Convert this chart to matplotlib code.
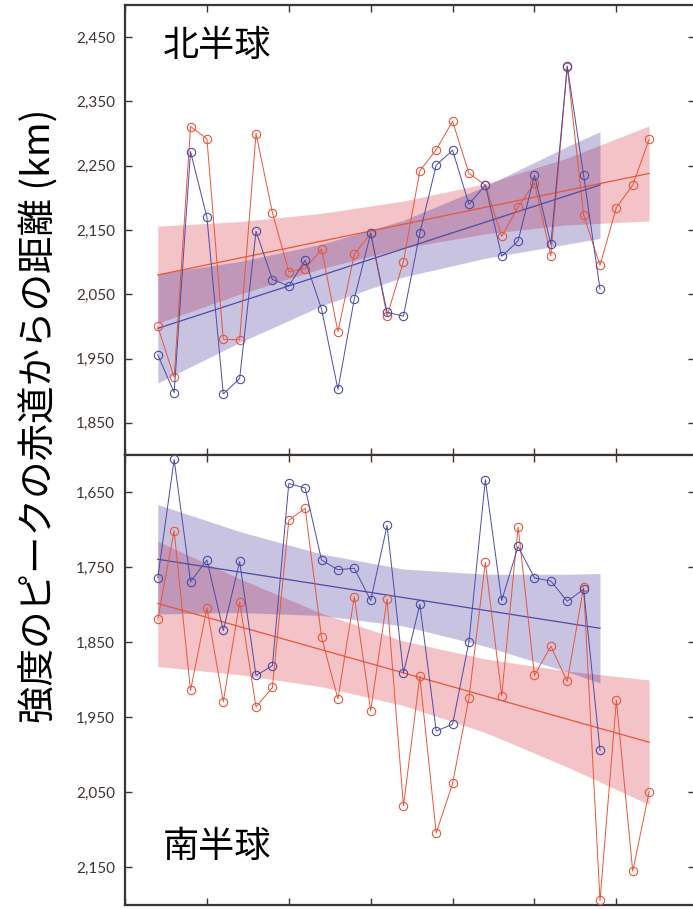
import matplotlib
matplotlib.use("Agg")
import matplotlib.pyplot as plt
from matplotlib.ticker import FuncFormatter, MultipleLocator
import numpy as np

# years for the two series (orange runs three years longer than blue)
years_a = np.arange(1982, 2013)
years_b = np.arange(1982, 2010)

# northern hemisphere, distance from equator (km)
nh_a = [2000, 1921, 2311, 2292, 1980, 1979, 2300, 2177, 2085, 2090,
        2120, 1992, 2112, 2145, 2016, 2101, 2242, 2275, 2319, 2238,
        2220, 2140, 2186, 2223, 2110, 2404, 2173, 2095, 2185, 2220, 2291]
nh_b = [1956, 1897, 2272, 2170, 1895, 1919, 2148, 2073, 2063, 2103,
        2027, 1902, 2043, 2145, 2022, 2016, 2145, 2251, 2274, 2190,
        2220, 2109, 2133, 2235, 2128, 2405, 2235, 2058]

# southern hemisphere
sh_a = [1819, 1701, 1914, 1804, 1929, 1796, 1936, 1910, 1687, 1671,
        1843, 1925, 1789, 1941, 1792, 2068, 1895, 2104, 2038, 1924,
        1743, 1921, 1696, 1894, 1855, 1902, 1776, 2194, 1927, 2155, 2049]
sh_b = [1764, 1606, 1769, 1740, 1834, 1742, 1894, 1881, 1638, 1644,
        1740, 1753, 1751, 1794, 1694, 1891, 1799, 1968, 1959, 1849,
        1633, 1794, 1722, 1764, 1768, 1795, 1779, 1994]

# trend lines (end points) and confidence bands
band_years_a = [1982, 1987, 1992, 1997, 2002, 2007, 2012]
band_years_b = [1982, 1987, 1992, 1997, 2002, 2007, 2009]

nh_fit_a = [2080, 2238]
nh_fit_b = [1997, 2220]
nh_band_a_hi = [2156, 2163, 2176, 2195, 2222, 2262, 2312]
nh_band_a_lo = [2005, 2050, 2090, 2122, 2144, 2158, 2164]
nh_band_b_hi = [2082, 2101, 2128, 2165, 2218, 2280, 2303]
nh_band_b_lo = [1912, 1975, 2032, 2077, 2106, 2128, 2137]

sh_fit_a = [1798, 1983]
sh_fit_b = [1739, 1831]
sh_band_a_hi = [1715, 1765, 1811, 1848, 1872, 1888, 1900]
sh_band_a_lo = [1882, 1893, 1909, 1934, 1970, 2016, 2066]
sh_band_b_hi = [1666, 1702, 1732, 1752, 1759, 1759, 1758]
sh_band_b_lo = [1812, 1810, 1814, 1828, 1855, 1889, 1904]

ORANGE = "#e8553a"
BLUE = "#4b4ca3"
DARK = "#3d3530"

plt.rcParams["font.family"] = ["Lato", "DejaVu Sans"]

W, H = 693, 909
fig = plt.figure(figsize=(W / 100, H / 100), dpi=100)

left = 125 / W
width = (695 - 125) / W
ax_top = fig.add_axes([left, (H - 455) / H, width, 450 / H])
ax_bot = fig.add_axes([left, (H - 905) / H, width, 450 / H])


def draw_panel(ax, ya, yb, fit_a, fit_b, a_hi, a_lo, b_hi, b_lo):
    ax.fill_between(band_years_a, a_lo, a_hi, color="#e16b75", alpha=0.4,
                    linewidth=0, zorder=1)
    ax.fill_between(band_years_b, b_lo, b_hi, color="#3c2896", alpha=0.28,
                    linewidth=0, zorder=2)
    ax.plot([years_a[0], years_a[-1]], fit_a, color=ORANGE, lw=0.9, zorder=3)
    ax.plot([years_b[0], years_b[-1]], fit_b, color=BLUE, lw=0.9, zorder=3)
    ax.plot(years_a, ya, color=ORANGE, lw=0.7, marker="o", ms=6,
            mfc="none", mew=0.8, zorder=4)
    ax.plot(years_b, yb, color=BLUE, lw=0.7, marker="o", ms=6,
            mfc="none", mew=0.8, zorder=4)

    ax.set_xlim(1980, 2014.8)
    ax.xaxis.set_major_locator(MultipleLocator(5))
    ax.yaxis.set_major_locator(MultipleLocator(100))
    ax.yaxis.set_major_formatter(FuncFormatter(lambda v, p: "{:,.0f}".format(v)))
    ax.tick_params(direction="in", length=5, width=1, color=DARK,
                   top=True, bottom=True, left=True, right=True,
                   labelbottom=False, labelright=False,
                   labelsize=11, labelcolor=DARK, pad=7)
    for s in ax.spines.values():
        s.set_color(DARK)
        s.set_linewidth(1.6)
    ax.spines["right"].set_visible(False)


draw_panel(ax_top, nh_a, nh_b, nh_fit_a, nh_fit_b,
           nh_band_a_hi, nh_band_a_lo, nh_band_b_hi, nh_band_b_lo)
ax_top.set_ylim(1800, 2500)
ax_top.set_yticks([1850, 1950, 2050, 2150, 2250, 2350, 2450])

draw_panel(ax_bot, sh_a, sh_b, sh_fit_a, sh_fit_b,
           sh_band_a_hi, sh_band_a_lo, sh_band_b_hi, sh_band_b_lo)
ax_bot.set_ylim(2200, 1600)
ax_bot.set_yticks([1650, 1750, 1850, 1950, 2050, 2150])

jp = ["Noto Sans CJK JP", "DejaVu Sans"]
fig.text(163 / W, 1 - 46 / H, "北半球", family=jp, fontsize=26,
         va="center", ha="left", color="black")
fig.text(163 / W, 1 - 847 / H, "南半球", family=jp, fontsize=26,
         va="center", ha="left", color="black")
fig.text(40 / W, 1 - 416 / H, "強度のピークの赤道からの距離 (km)", family=jp,
         fontsize=27, rotation=90, va="center", ha="center", color="black")

fig.savefig("out.png", dpi=100)
